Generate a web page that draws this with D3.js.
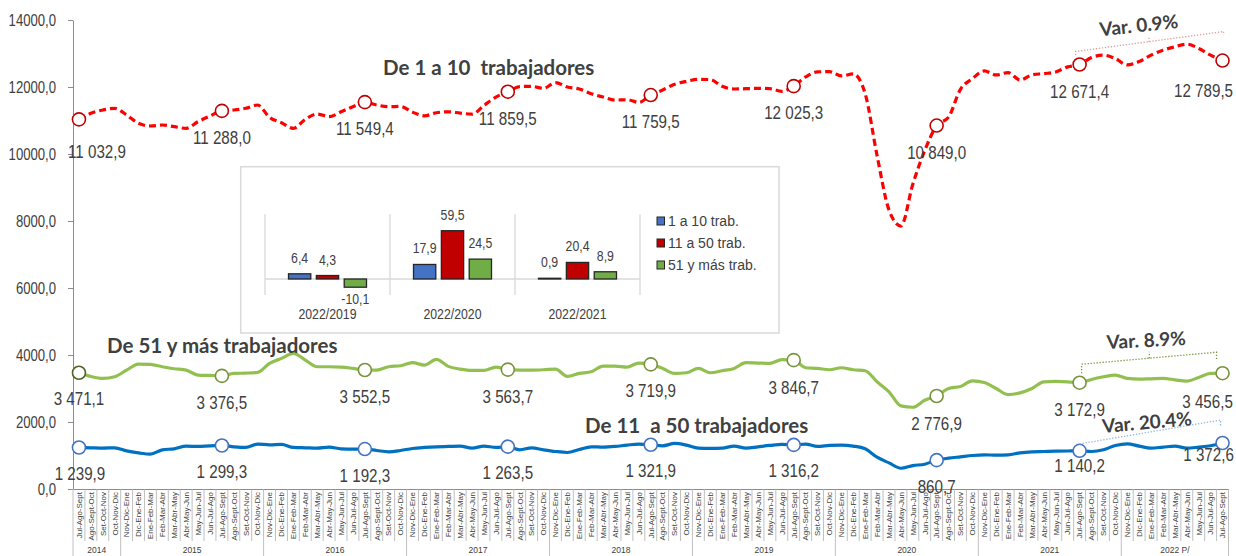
<!DOCTYPE html>
<html>
<head>
<meta charset="utf-8">
<style>
  body { margin: 0; background: #fff; }
  svg { display: block; }
  text { font-family: "Liberation Sans", Arial, sans-serif; fill: #404040; }
  .titulo { font-family: Lato, "Open Sans", sans-serif; font-weight: bold; white-space: pre; }
</style>
</head>
<body>
<svg width="1236" height="556"></svg>
<script src="https://cdn.jsdelivr.net/npm/d3@7"></script>
<script>
// trimestres moviles, de Jul-Ago-Sept 2014 a Jul-Ago-Sept 2022
const trimestres = ["Jul-Ago-Sept", "Ago-Sept-Oct", "Set-Oct-Nov", "Oct-Nov-Dic", "Nov-Dic-Ene", "Dic-Ene-Feb",
  "Ene-Feb-Mar", "Feb-Mar-Abr", "Mar-Abr-May", "Abr-May-Jun", "May-Jun-Jul", "Jun-Jul-Ago"];
const anios = ["2014", "2015", "2016", "2017", "2018", "2019", "2020", "2021", "2022 P/"];
const trimestresPorAnio = [4, 12, 12, 12, 12, 12, 12, 12, 9];

// miles de trabajadores
const de1a10 = [
  11032.9, 11215, 11313, 11364, 11164, 10916, 10836, 10866, 10816, 10766, 10965, 11134,
  11288.0, 11313, 11364, 11462, 11095, 10934, 10766, 11035, 11194, 11114, 11263, 11413,
  11549.4, 11462, 11413, 11420, 11250, 11140, 11230, 11260, 11220, 11190, 11450, 11700,
  11859.5, 12010, 12020, 11960, 12130, 12000, 11940, 11800, 11700, 11610, 11620, 11540,
  11759.5, 11910, 12080, 12170, 12230, 12220, 12020, 11940, 11950, 11960, 11950, 11870,
  12025.3, 12300, 12450, 12460, 12330, 12390, 11800, 9950, 8330, 7850, 9100, 10100,
  10849.0, 11100, 11930, 12250, 12480, 12360, 12430, 12210, 12360, 12400, 12450, 12600,
  12671.4, 12880, 12950, 12850, 12660, 12760, 12950, 13100, 13200, 13280, 13150, 12950,
  12789.5];
const de11a50 = [
  1239.9, 1230, 1220, 1230, 1140, 1080, 1040, 1170, 1200, 1280, 1270, 1290,
  1299.3, 1260, 1240, 1340, 1320, 1330, 1240, 1230, 1220, 1250, 1200, 1190,
  1192.3, 1150, 1110, 1150, 1210, 1240, 1260, 1270, 1280, 1220, 1280, 1240,
  1263.5, 1170, 1230, 1170, 1120, 1090, 1180, 1260, 1250, 1270, 1310, 1340,
  1321.9, 1290, 1360, 1310, 1220, 1210, 1220, 1280, 1220, 1260, 1300, 1330,
  1316.2, 1340, 1270, 1300, 1310, 1280, 1200, 950, 780, 620, 700, 740,
  860.7, 920, 960, 1000, 1020, 1010, 1020, 1080, 1110, 1120, 1130, 1135,
  1140.2, 1120, 1170, 1300, 1350, 1280, 1220, 1250, 1280, 1220, 1250, 1290,
  1372.6];
const de51mas = [
  3471.1, 3360, 3300, 3350, 3550, 3730, 3720, 3650, 3590, 3550, 3400, 3390,
  3376.5, 3450, 3460, 3480, 3750, 3900, 4050, 3850, 3650, 3650, 3640, 3600,
  3552.5, 3550, 3650, 3680, 3770, 3700, 3870, 3660, 3580, 3540, 3540, 3640,
  3563.7, 3550, 3550, 3560, 3580, 3360, 3450, 3500, 3670, 3670, 3640, 3760,
  3719.9, 3600, 3450, 3470, 3600, 3470, 3530, 3600, 3770, 3760, 3750, 3860,
  3846.7, 3620, 3600, 3560, 3620, 3560, 3530, 3200, 2900, 2480, 2440, 2650,
  2776.9, 3000, 3060, 3230, 3180, 3000, 2820, 2870, 3000, 3200, 3210, 3200,
  3172.9, 3270, 3350, 3400, 3300, 3280, 3290, 3300, 3260, 3220, 3330, 3450,
  3456.5];
const yTicks = [0, 2000, 4000, 6000, 8000, 10000, 12000, 14000];

// recuadro: variacion % por tamano de empresa
const comparaciones = ["2022/2019", "2022/2020", "2022/2021"];
const var1a10 = [6.4, 17.9, 0.9];
const var11a50 = [4.3, 59.5, 20.4];
const var51mas = [-10.1, 24.5, 8.9];
const leyendaRecuadro = ["1 a 10 trab.", "11 a 50 trab.", "51 y más trab."];

const categorias = [];
anios.forEach((a, k) => {
  for (let j = 0; j < trimestresPorAnio[k]; j++) {
    categorias.push({ trimestre: trimestres[categorias.length % 12], anio: a });
  }
});

const loc = d3.formatLocale({ decimal: ",", thousands: " ", grouping: [3], currency: ["", ""], minus: "-" });
const fmtDato = loc.format(",.1f");
const fmtEje = loc.format(".1f");

// no hay Arial Narrow: se comprime el texto a lo ancho
function angosto(sel, k = 0.82) {
  sel.each(function () {
    const t = d3.select(this);
    const xx = +t.attr("x") || 0, yy = +t.attr("y") || 0;
    t.attr("x", null).attr("y", null)
      .attr("transform", `translate(${xx},${yy}) scale(${k},1)`);
  });
}

const svg = d3.select("svg");

const x = d3.scaleBand().domain(d3.range(categorias.length)).range([73, 1228.5]);
const cx = i => x(i) + x.bandwidth() / 2;
const y = d3.scaleLinear().domain([0, 14000]).range([489, 20]);

// eje Y
const ejeY = svg.append("g")
  .attr("transform", "translate(73,0)")
  .call(d3.axisLeft(y).tickValues(yTicks).tickFormat(fmtEje).tickSize(5).tickSizeOuter(0).tickPadding(12));
ejeY.selectAll("text").style("font-size", "16px").attr("fill", "#404040").call(angosto);
ejeY.selectAll("line, path").attr("stroke", "#8c8c8c");

// eje X con trimestres rotados
const ejeX = svg.append("g")
  .attr("transform", "translate(0,489)")
  .call(d3.axisBottom(x).tickFormat(i => categorias[i].trimestre).tickSize(0).tickSizeOuter(0));
ejeX.select(".domain").attr("stroke", "#8c8c8c");
ejeX.selectAll("text")
  .attr("transform", "rotate(-90)")
  .attr("x", -3).attr("y", 0).attr("dy", "0.35em")
  .style("text-anchor", "end")
  .style("font-size", "8px")
  .attr("fill", "#404040");

// separadores de trimestres y de anios
const inicioAnio = d3.cumsum([0].concat(trimestresPorAnio));
svg.append("g").selectAll("line")
  .data(d3.range(categorias.length + 1))
  .join("line")
  .attr("x1", i => 73 + i * x.bandwidth()).attr("x2", i => 73 + i * x.bandwidth())
  .attr("y1", 489)
  .attr("y2", i => inicioAnio.includes(i) ? 556 : 541)
  .attr("stroke", "#b0b0b0").attr("stroke-width", 0.8);

svg.append("g").selectAll("text")
  .data(anios)
  .join("text")
  .attr("x", (a, k) => (x(inicioAnio[k]) + (x(inicioAnio[k + 1] - 1) + x.bandwidth())) / 2)
  .attr("y", 553)
  .attr("text-anchor", "middle")
  .style("font-size", "8.5px")
  .text(a => a);

// series
const series = [
  { valores: de51mas, linea: "#92C050", dash: null, marcador: "#77933C", texto: "#4F6228",
    base: [0, 33], ajuste: { 0: [0, 32], 60: [0, 34], 72: [0, 34], 96: [-15, 35] } },
  { valores: de11a50, linea: "#0070C0", dash: null, marcador: "#4472C4", texto: "#2E5C9E",
    base: [0, 32.5], ajuste: { 0: [1, 32.5], 84: [0, 21], 96: [-14, 18] } },
  { valores: de1a10, linea: "#FF0000", dash: "7,4", marcador: "#C00000", texto: "#C00000",
    base: [0, 33], ajuste: { 0: [18, 39], 96: [-19, 36] } }
];

const linea = d3.line().x((d, i) => cx(i)).y(d => y(d)).curve(d3.curveMonotoneX);

series.forEach(s => {
  svg.append("path")
    .datum(s.valores)
    .attr("d", linea)
    .attr("fill", "none")
    .attr("stroke", s.linea)
    .attr("stroke-width", 3.2)
    .attr("stroke-dasharray", s.dash);
});

series.forEach(s => {
  const puntos = d3.range(0, s.valores.length, 12);
  svg.append("g").selectAll("circle")
    .data(puntos)
    .join("circle")
    .attr("cx", i => cx(i)).attr("cy", i => y(s.valores[i]))
    .attr("r", 6.5)
    .attr("fill", "#fff")
    .attr("stroke", (i, k) => (s.valores === de51mas && k === 0) ? "#4F6228" : s.marcador)
    .attr("stroke-width", 1.6);
  svg.append("g").selectAll("text")
    .data(puntos)
    .join("text")
    .attr("x", i => cx(i) + (s.ajuste[i] || s.base)[0])
    .attr("y", i => y(s.valores[i]) + (s.ajuste[i] || s.base)[1])
    .attr("text-anchor", "middle")
    .attr("fill", s.texto)
    .style("font-size", "18.5px")
    .text(i => fmtDato(s.valores[i]))
    .call(angosto);
});

// titulos de las series
const titulos = [
  { t: "De 1 a 10  trabajadores", x: 383, y: 75, c: "#FF0000" },
  { t: "De 51 y más trabajadores", x: 107, y: 353, c: "#4F6228" },
  { t: "De 11  a 50 trabajadores", x: 585, y: 433, c: "#002060" }
];
svg.append("g").selectAll("text")
  .data(titulos)
  .join("text")
  .attr("class", "titulo")
  .attr("x", d => d.x).attr("y", d => d.y)
  .attr("fill", d => d.c)
  .style("font-size", "20.5px")
  .text(d => d.t);

// variaciones anuales con llaves punteadas
const i0 = 84, i1 = 96;
const llave = (pts, color) => svg.append("path")
  .attr("d", d3.line()(pts))
  .attr("fill", "none").attr("stroke", color)
  .attr("stroke-width", 1.3).attr("stroke-dasharray", "1.3,1.7");

const yR0 = y(de1a10[i0]), yR1 = y(de1a10[i1]);
llave([[cx(i0) - 4, yR0 - 9.5], [cx(i0) - 4, yR0 - 13], [cx(i1) + 1, yR1 - 29], [cx(i1) + 1, yR1 - 25.5]], "#E39A9A");
llave([[1149, yR0 - 22.5], [1149, yR0 - 27.5]], "#E39A9A");

const yG0 = y(de51mas[i0]), yG1 = y(de51mas[i1]);
llave([[cx(i0) + 2, yG0 - 9.5], [cx(i0) + 2, yG0 - 18.5], [cx(i1) - 6, yG1 - 21], [cx(i1) - 6, yG1 - 13]], "#77933C");
llave([[1149.3, yG0 - 24.5], [1149.3, yG0 - 31]], "#77933C");

const yB0 = y(de11a50[i0]), yB1 = y(de11a50[i1]);
llave([[cx(i0), yB0 - 7], [cx(i1) - 2, yB1 - 23], [cx(i1) - 2, yB1 - 17]], "#8DB4E2");

const variaciones = [
  { t: "Var. 0.9%", x: 1139.5, y: 32, r: -6, c: "#FF0000" },
  { t: "Var. 8.9%", x: 1146.5, y: 347, r: -3, c: "#4F6228" },
  { t: "Var. 20.4%", x: 1147.5, y: 429, r: -5, c: "#002060" }
];
svg.append("g").selectAll("text")
  .data(variaciones)
  .join("text")
  .attr("class", "titulo")
  .attr("transform", d => `translate(${d.x},${d.y}) rotate(${d.r})`)
  .attr("text-anchor", "middle")
  .attr("fill", d => d.c)
  .style("font-size", "19px")
  .text(d => d.t);

// recuadro con barras
const rec = svg.append("g");
rec.append("rect")
  .attr("x", 240.7).attr("y", 166.7).attr("width", 538.3).attr("height", 166.3)
  .attr("fill", "#fff").attr("stroke", "#d9d9d9").attr("stroke-width", 1.5);

const xr = d3.scaleBand().domain(comparaciones).range([265, 640]);
const claves = ["a", "b", "c"];
const xs = d3.scaleBand().domain(claves).range([23.5, 101.5]).paddingInner(0.2);
const yr = d3.scaleLinear().domain([0, 60]).range([279, 230.3]);
const coloresBarra = ["#4472C4", "#C00000", "#70AD47"];
const valoresBarra = [var1a10, var11a50, var51mas];

rec.append("g").selectAll("line")
  .data(comparaciones.map(c => xr(c)).concat([xr(comparaciones[2]) + xr.bandwidth()]))
  .join("line")
  .attr("x1", d => d).attr("x2", d => d)
  .attr("y1", 214.3).attr("y2", 295)
  .attr("stroke", "#d9d9d9").attr("stroke-width", 1.3);
rec.append("line")
  .attr("x1", 265).attr("x2", 640).attr("y1", yr(0)).attr("y2", yr(0))
  .attr("stroke", "#d9d9d9").attr("stroke-width", 1.3);

const barras = [];
comparaciones.forEach((c, k) => claves.forEach((s, j) => barras.push({ c, s, j, v: valoresBarra[j][k] })));

rec.append("g").selectAll("rect")
  .data(barras)
  .join("rect")
  .attr("x", d => xr(d.c) + xs(d.s))
  .attr("width", xs.bandwidth())
  .attr("y", d => yr(Math.max(0, d.v)))
  .attr("height", d => Math.abs(yr(d.v) - yr(0)))
  .attr("fill", d => coloresBarra[d.j])
  .attr("stroke", "#262626").attr("stroke-width", 1.3);

rec.append("g").selectAll("text")
  .data(barras)
  .join("text")
  .attr("x", d => xr(d.c) + xs(d.s) + xs.bandwidth() / 2)
  .attr("y", d => d.v >= 0 ? yr(d.v) - 11 : yr(d.v) + 16.5)
  .attr("text-anchor", "middle")
  .style("font-size", "15px")
  .text(d => fmtEje(d.v))
  .call(angosto);

rec.append("g").selectAll("text")
  .data(comparaciones)
  .join("text")
  .attr("x", c => xr(c) + xr.bandwidth() / 2)
  .attr("y", 319)
  .attr("text-anchor", "middle")
  .style("font-size", "15px")
  .text(c => c)
  .call(angosto);

const ley = rec.append("g").selectAll("g")
  .data(leyendaRecuadro)
  .join("g")
  .attr("transform", (d, k) => `translate(657,${221 + k * 22})`);
ley.append("rect")
  .attr("x", 0).attr("y", -4).attr("width", 7.5).attr("height", 8)
  .attr("fill", (d, k) => coloresBarra[k])
  .attr("stroke", "#262626").attr("stroke-width", 1);
ley.append("text")
  .attr("x", 11).attr("y", 0).attr("dy", "0.35em")
  .style("font-size", "14px")
  .text(d => d);
</script>
</body>
</html>
